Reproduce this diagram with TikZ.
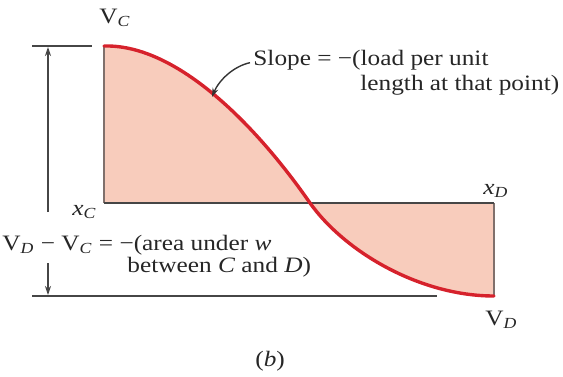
\documentclass[tikz,border=0pt]{standalone}
\usepackage{fontspec}
\setmainfont{Liberation Serif}[FakeStretch=1.15]
\usetikzlibrary{arrows.meta, positioning, calc}
\definecolor{cFill}{RGB}{248,204,188}
\definecolor{cCurve}{RGB}{214,34,44}
\definecolor{cEdge}{RGB}{128,112,108}
\definecolor{cLine}{RGB}{70,70,70}
\tikzset{
    lbl/.style      ={anchor=base west, inner sep=0pt, text=black!85},
    shearcurve/.style={draw=cCurve, line width=1.7pt, line cap=round},
    edgeline/.style ={draw=cEdge, line width=0.8pt},
    refline/.style  ={draw=cLine, line width=0.8pt},
    dimarrow/.style ={-{Stealth[length=4.5pt, width=3pt]}, draw=cLine, line width=0.6pt},
    leader/.style   ={-{Stealth[length=4.5pt, width=3pt]}, draw=black!80, line width=0.7pt},
}
\begin{document}
\begin{tikzpicture}[x=0.5pt, y=-0.5pt, font=\fontsize{11}{13}\selectfont]
        \useasboundingbox (0,0) rectangle (563,376);
        % shear diagram
        \coordinate (c) at (104,203);
        \coordinate (d) at (494,203);
        \coordinate (top) at (104,46);
        \coordinate (bot) at (494,296);
        \coordinate (zero) at (310,203);
        \fill[cFill] (c) -- (top) .. controls (178,44) and (258,128) .. (zero)
            .. controls (345,252) and (420,296) .. (bot) -- (d) -- cycle;
        \draw[edgeline] (c) -- (top);
        \draw[edgeline] (d) -- (bot);
        \draw[refline] (c) -- (d);
        \draw[shearcurve] (top) .. controls (178,44) and (258,128) .. (zero)
            .. controls (345,252) and (420,296) .. (bot);
        % end labels
        \node[lbl] (vc) at (99,23) {V\textsubscript{\textit{C}}};
        \node[lbl] (xc) at (72,215) {\textit{x}\textsubscript{\textit{C}}};
        \node[lbl] (xd) at (483,194) {\textit{x}\textsubscript{\textit{D}}};
        \node[lbl] (vd) at (485,325) {V\textsubscript{\textit{D}}};
        % slope note
        \node[lbl] (slopeA) at (253,65) {Slope = −(load per unit};
        \node[lbl] (slopeB) at (360,90) {length at that point)};
        \coordinate (slopept) at (212,97);
        \draw[leader] ([xshift=-1.5pt,yshift=-1.5pt]slopeA.west) .. controls (234,66) and (219,80) .. (slopept);
        % change in shear
        \coordinate (toptick) at (32,46);
        \coordinate (topend) at (92,46);
        \coordinate (bottick) at (32,296);
        \coordinate (botend) at (437,296);
        \draw[refline] (toptick) -- (topend);
        \draw[refline] (bottick) -- (botend);
        \node[lbl] (areaA) at (2,250) {V\textsubscript{\textit{D}} − V\textsubscript{\textit{C}} = −(area under \textit{w}};
        \node[lbl] (areaB) at (127,272) {between \textit{C} and \textit{D})};
        \coordinate (upfrom) at (48,212);
        \coordinate (upto) at (48,47);
        \coordinate (dnfrom) at (48,263);
        \coordinate (dnto) at (48,295);
        \draw[dimarrow] (upfrom) -- (upto);
        \draw[dimarrow] (dnfrom) -- (dnto);
        % caption
        \node[lbl] (cap) at (255,366) {(\textit{b})};
    \end{tikzpicture}
\end{document}
